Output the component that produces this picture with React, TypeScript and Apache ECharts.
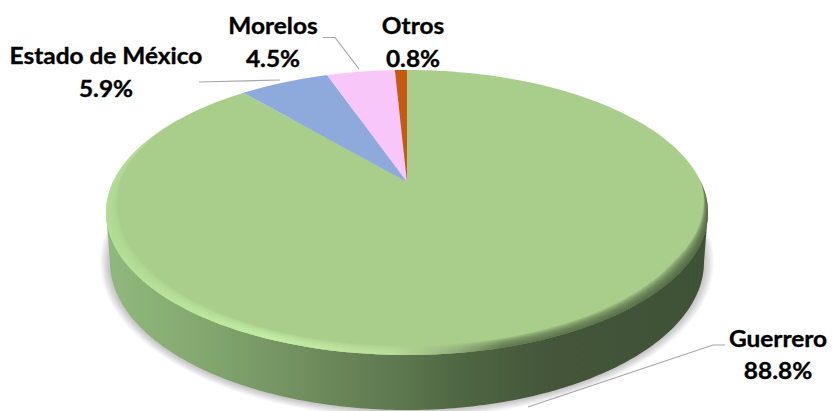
import React, { useEffect, useRef } from "react";
import * as echarts from "echarts";

const names = ["Guerrero", "Estado de México", "Morelos", "Otros"];
const values = [88.8, 5.9, 4.5, 0.8];
const colors = ["#A9CE8C", "#8EA9DB", "#F9C6F9", "#C55A11"];

const FONT = "Lato, Carlito, sans-serif";
const CX = 407, CY = 182, K = 0.214, A = 136, B = 294;
const labelPos = [
  { x: 778, y1: 338, y2: 370 },
  { x: 106, y1: 55, y2: 88 },
  { x: 273, y1: 25, y2: 58 },
  { x: 413, y1: 25, y2: 58 },
];
const leaderLines = [
  [[528, 407], [713, 345], [725, 345]],
  [[199, 82], [280, 80]],
  [[323, 37.5], [335, 37.5], [359, 69]],
];

function project(r: number, theta: number): number[] {
  const x = r * Math.sin(theta), y = r * Math.cos(theta);
  const d = 1 + K * y;
  return [CX + (B * x) / d, CY - (A * y) / d];
}
const hGrad = (x0: number, x1: number, stops: [number, string][]) => ({
  type: "linear", x: x0, y: 0, x2: x1, y2: 0, global: true,
  colorStops: stops.map(([offset, color]) => ({ offset, color })),
});
const wallFill = hGrad(110, 705, [
  [0, "#90b77c"], [0.15, "#83a970"], [0.32, "#718f5f"], [0.49, "#5d774e"],
  [0.6, "#4e6541"], [0.75, "#44553a"], [1, "#3f5236"],
]);
const bevelFill = hGrad(106, 709, [
  [0, "#b4df98"], [0.27, "#c8f4aa"], [0.47, "#bde2a0"], [0.58, "#8fa878"],
  [0.66, "#566b45"], [1, "#465a3a"],
]);

function renderItem(params: any, api: any) {
  const i = params.dataIndex;
  const total = values.reduce((a, b) => a + b, 0);
  const start = values.slice(0, i).reduce((a, b) => a + b, 0);
  const t0 = (start / total) * Math.PI * 2;
  const t1 = ((start + api.value(0)) / total) * Math.PI * 2;
  const children: any[] = [];
  const N = 180;
  if (i === 0) {
    for (let s = 10; s >= 1; s--) {
      const halo: number[][] = [];
      for (let j = 0; j < N * 2; j++) {
        const p = (Math.PI * j) / N;
        halo.push([407 + (297 + s) * Math.cos(p), 262 + (148 + s * 0.8) * Math.sin(p)]);
      }
      children.push({ type: "polygon", shape: { points: halo }, style: { fill: "#000", opacity: 0.022 } });
    }
    const wall: number[][] = [];
    for (let j = 0; j <= N; j++) {
      const p = Math.PI * (1 - j / N);
      wall.push([407 + 297 * Math.cos(p), 262 + 148 * Math.sin(p)]);
    }
    wall.push([708, 212], [106, 212]);
    children.push({ type: "polygon", shape: { points: wall }, style: { fill: wallFill } });
  }
  const face: number[][] = [project(0, 0)];
  for (let j = 0; j <= N; j++) face.push(project(1, t0 + ((t1 - t0) * j) / N));
  children.push({ type: "polygon", shape: { points: face }, style: { fill: api.visual("color") } });
  if (i === 0) {
    const bands = 10;
    for (let b = bands; b >= 1; b--) {
      const outer: number[][] = [], inner: number[][] = [];
      for (let j = 0; j <= N; j++) {
        const th = t0 + ((t1 - t0) * j) / N;
        const c = Math.cos(th);
        const t = th < Math.PI
          ? Math.min(1, Math.max(0, (0.0 - c) / 0.55))
          : Math.min(1, Math.max(0, (0.5 - c) / 0.8));
        outer.push(project(1, th));
        inner.push(project(1 - 0.042 * t * (b / bands), th));
      }
      children.push({
        type: "polygon", shape: { points: outer.concat(inner.reverse()) },
        style: { fill: bevelFill, opacity: 0.17 },
      });
    }
  }
  return { type: "group", children };
}

export default function App() {
  const ref = useRef<HTMLDivElement>(null);
  useEffect(() => {
    const chart = echarts.init(ref.current!, undefined, { renderer: "svg" });
    const labelText = (text: string, x: number, y: number) => ({
      type: "text", x, y, scaleX: 1.11,
      style: {
        text, fill: "#000", font: `bold 22px ${FONT}`, align: "center", verticalAlign: "middle",
        stroke: "#000", lineWidth: 0.35,
      },
      z: 10,
    });
    chart.setOption({
      animation: false,
      backgroundColor: "#fff",
      series: [{
        type: "custom", coordinateSystem: "none", renderItem,
        data: values.map((v, i) => ({ name: names[i], value: [v], itemStyle: { color: colors[i] } })),
        silent: true,
      }],
      graphic: [
        ...leaderLines.map((pts) => ({
          type: "polyline", shape: { points: pts }, z: 9,
          style: { stroke: "#a6a6a6", lineWidth: 1.2, fill: "none" },
        })),
        ...names.flatMap((n, i) => [
          labelText(n, labelPos[i].x, labelPos[i].y1),
          labelText(`${values[i].toFixed(1)}%`, labelPos[i].x, labelPos[i].y2),
        ]),
      ],
    });
    return () => chart.dispose();
  }, []);
  return <div ref={ref} style={{ position: "absolute", left: 0, top: 0, width: 833, height: 411 }} />;
}
